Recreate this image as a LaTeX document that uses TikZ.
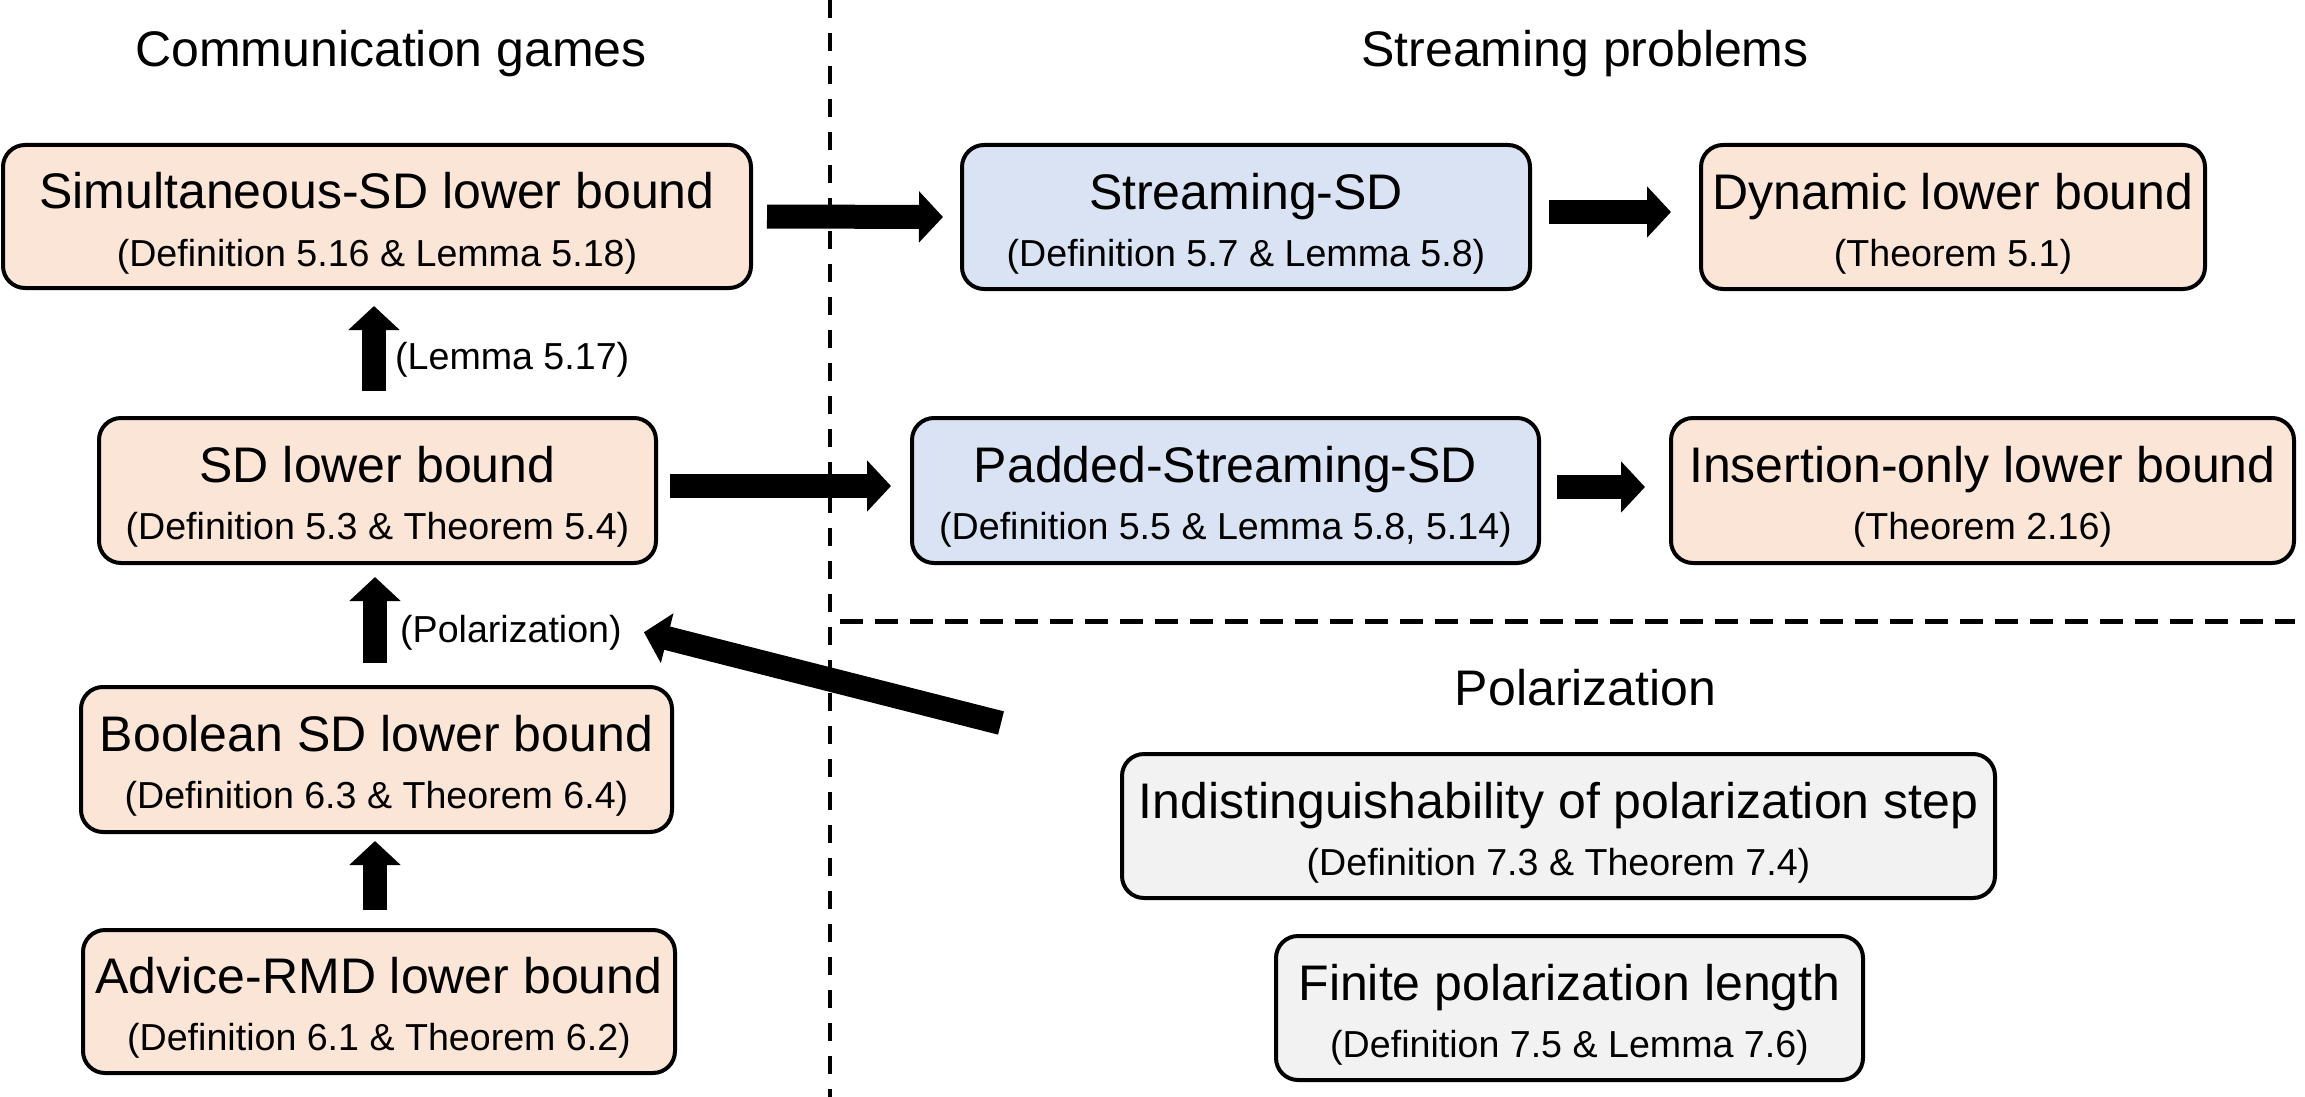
\documentclass[tikz,border=0pt]{standalone}
\usepackage{fontspec}
\setmainfont{Liberation Sans}
\usetikzlibrary{arrows.meta}
\definecolor{peach}{HTML}{FBE5D6}
\definecolor{paleblue}{HTML}{DAE3F3}
\definecolor{palegray}{HTML}{F2F2F2}
\newcommand\bigfnt{\fontsize{50}{60}\selectfont}
\newcommand\smallfnt{\fontsize{37.6}{45}\selectfont}
\begin{document}
\begin{tikzpicture}[x=1pt,y=-1pt,
  box/.style={draw, line width=4pt, rounded corners=22pt, inner sep=0pt},
  orangebox/.style={box, fill=peach},
  bluebox/.style={box, fill=paleblue},
  graybox/.style={box, fill=palegray},
  ttl/.style={anchor=base, inner sep=0pt, font=\bigfnt},
  subttl/.style={anchor=base, inner sep=0pt, font=\smallfnt},
  fat/.style={line width=24pt, -{Triangle[width=50pt,length=24pt]}},
  divider/.style={line width=4.5pt, dash pattern=on 18pt off 15pt},
  hdivider/.style={line width=4.5pt, dash pattern=on 23pt off 12pt}]
\useasboundingbox (0,0) rectangle (2305,1097);

% dividers
\draw[divider] (830,0) -- (830,1097);
\draw[hdivider] (840,621.7) -- (2295,621.7);

% headers
\node[ttl] (hc) at (391,66.5) {Communication games};
\node[ttl] (hs) at (1585,66.5) {Streaming problems};
\node[ttl] (hp) at (1585.6,705) {Polarization};

% left column
\node[orangebox, minimum width=748pt, minimum height=143pt] (A) at (377,216.5) {};
\node[ttl] (At) at (377,208.5) {Simultaneous-SD lower bound};
\node[subttl] (As) at (377,266.5) {(Definition 5.16 \& Lemma 5.18)};

\node[orangebox, minimum width=557pt, minimum height=145pt] (B) at (377.5,490.5) {};
\node[ttl] (Bt) at (377.5,482.5) {SD lower bound};
\node[subttl] (Bs) at (377.5,539.5) {(Definition 5.3 \& Theorem 5.4)};

\node[orangebox, minimum width=591pt, minimum height=145pt] (C) at (376.5,759.5) {};
\node[ttl] (Ct) at (376.5,751.5) {Boolean SD lower bound};
\node[subttl] (Cs) at (376.5,808.5) {(Definition 6.3 \& Theorem 6.4)};

\node[orangebox, minimum width=592pt, minimum height=143pt] (D) at (379,1001.5) {};
\node[ttl] (Dt) at (379,993.5) {Advice-RMD lower bound};
\node[subttl] (Ds) at (379,1050.5) {(Definition 6.1 \& Theorem 6.2)};

% streaming column
\node[bluebox, minimum width=568pt, minimum height=144pt] (E) at (1246,217) {};
\node[ttl] (Et) at (1246,209) {Streaming-SD};
\node[subttl] (Es) at (1246,266) {(Definition 5.7 \& Lemma 5.8)};

\node[orangebox, minimum width=504pt, minimum height=144pt] (F) at (1953,217) {};
\node[ttl] (Ft) at (1953,209) {Dynamic lower bound};
\node[subttl] (Fs) at (1953,266) {(Theorem 5.1)};

\node[bluebox, minimum width=627pt, minimum height=145pt] (G) at (1225.5,490.5) {};
\node[ttl] (Gt) at (1225.5,482.5) {Padded-Streaming-SD};
\node[subttl] (Gs) at (1225.5,539.5) {(Definition 5.5 \& Lemma 5.8, 5.14)};

\node[orangebox, minimum width=623pt, minimum height=145pt] (H) at (1982.5,490.5) {};
\node[ttl] (Ht) at (1982.5,482.5) {Insertion-only lower bound};
\node[subttl] (Hs) at (1982.5,539.5) {(Theorem 2.16)};

% polarization column
\node[graybox, minimum width=873pt, minimum height=144pt] (I) at (1558.5,826) {};
\node[ttl] (It) at (1558.5,818) {Indistinguishability of polarization step};
\node[subttl] (Is) at (1558.5,875) {(Definition 7.3 \& Theorem 7.4)};

\node[graybox, minimum width=587pt, minimum height=144pt] (J) at (1569.5,1008) {};
\node[ttl] (Jt) at (1569.5,1000) {Finite polarization length};
\node[subttl] (Js) at (1569.5,1057) {(Definition 7.5 \& Lemma 7.6)};

% arrow labels
\node[subttl, anchor=base west] (L1) at (395,369) {(Lemma 5.17)};
\node[subttl, anchor=base west] (L2) at (400,642) {(Polarization)};

% arrows
\draw[fat] ([xshift=14pt]A.east) -- ([xshift=-17pt]E.west);
\draw[fat] ([xshift=17pt,yshift=5pt]E.east) -- ([xshift=-28pt,yshift=5pt]F.west);
\draw[fat] ([xshift=12pt,yshift=4.5pt]B.east) -- ([xshift=-19pt,yshift=4.5pt]G.west);
\draw[fat] ([xshift=16pt,yshift=3.5pt]G.east) -- ([xshift=-24pt,yshift=3.5pt]H.west);
\draw[fat] ([xshift=-3.5pt,yshift=25pt]B.north) -- ([xshift=-3pt,yshift=-16pt]A.south);
\draw[fat] ([xshift=-1.5pt,yshift=22pt]C.north) -- ([xshift=-2.5pt,yshift=-12pt]B.south);
\draw[fat] ([xshift=-4pt,yshift=18pt]D.north) -- ([xshift=-1.5pt,yshift=-7pt]C.south);
\coordinate (tail) at (1001,723);
\draw[fat] (tail) -- ([xshift=22pt]L2.east);
\end{tikzpicture}
\end{document}
